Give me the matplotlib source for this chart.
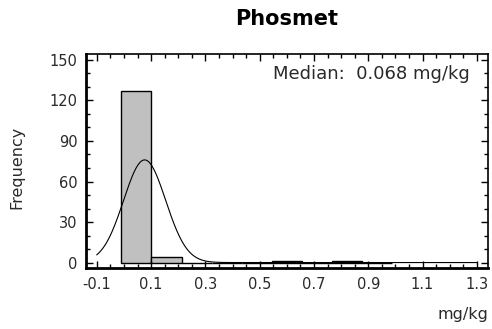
import numpy as np
import matplotlib.pyplot as plt
from matplotlib.ticker import MultipleLocator

# histogram data
bin_edges = [-0.01, 0.101, 0.212, 0.323, 0.434, 0.545, 0.656, 0.767, 0.878, 0.989]
counts = [127, 4, 0, 0, 0, 1, 0, 1, 0]

# fitted normal curve parameters
fit_mean = 0.076
fit_sd = 0.0775
n_samples = 133
curve_range = [-0.1, 1.3]

xticks = [-0.1, 0.1, 0.3, 0.5, 0.7, 0.9, 1.1, 1.3]
yticks = [0, 30, 60, 90, 120, 150]
median_text = "Median:  0.068 mg/kg"

txt_col = '#2a2a2a'
plt.rcParams['font.family'] = ['DejaVu Sans']
fig = plt.figure(figsize=(4.92, 3.29), dpi=100)
ax = fig.add_axes([0.1748, 0.1839, 0.817, 0.652])

# bars
widths = np.diff(bin_edges)
ax.bar(bin_edges[:-1], counts, width=widths, align='edge',
       color='#c0c0c0', edgecolor='black', linewidth=1)

# normal curve scaled to counts
bw = widths.mean()
xs = np.linspace(curve_range[0], curve_range[1], 400)
ys = n_samples * bw / (fit_sd * np.sqrt(2 * np.pi)) * np.exp(-0.5 * ((xs - fit_mean) / fit_sd) ** 2)
ax.plot(xs, ys, color='black', linewidth=0.8)

ax.set_xlim(-0.14, 1.341)
ax.set_ylim(-4.4, 154.4)
ax.set_xticks(xticks)
ax.set_xticklabels([str(t) for t in xticks])
ax.set_yticks(yticks)
ax.xaxis.set_minor_locator(MultipleLocator(0.05))
ax.yaxis.set_minor_locator(MultipleLocator(10))
ax.tick_params(which='both', direction='in', top=True, right=True, labelsize=10.5,
               colors='black', labelcolor=txt_col)
ax.tick_params(which='major', length=5, width=1, pad=6)
ax.tick_params(which='minor', length=3, width=1)
for side in ['left', 'bottom']:
    ax.spines[side].set_linewidth(2)
for side in ['top', 'right']:
    ax.spines[side].set_linewidth(1.2)

ax.text(0.955, 0.905, median_text, transform=ax.transAxes, ha='right', va='center',
        fontsize=13, color=txt_col)
fig.text(0.035, 0.49, "Frequency", rotation=90, ha='center', va='center', fontsize=11.5, color=txt_col)
fig.text(0.992, 0.045, "mg/kg", ha='right', va='center', fontsize=11.5, color=txt_col)
fig.text(0.583, 0.942, "Phosmet", ha='center', va='center', fontsize=15, fontweight='bold')

plt.savefig('out.png')
